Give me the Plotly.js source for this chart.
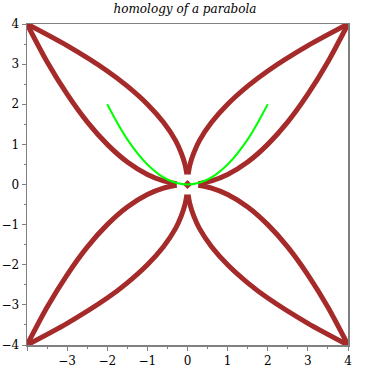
<!DOCTYPE html>
<html>
<head>
<meta charset="utf-8">
<script src="https://cdn.plot.ly/plotly-3.0.1.min.js"></script>
<style>html,body{margin:0;padding:0;background:#fff;}#plot{width:370px;height:370px;}</style>
</head>
<body>
<div id="plot"></div>
<script>
// Upper-left quadrant branches; other quadrants are mirror images
const steepX = [-4, -3, -2, -1.5, -1, -0.6, -0.3, -0.15, -0.06, -0.015];
const steepY = [4, 3.46, 2.83, 2.45, 2.0, 1.55, 1.1, 0.77, 0.49, 0.25];
const flatX = [-4, -3.5, -3, -2.5, -2, -1.5, -1, -0.6, -0.27];
const flatY = [4, 3.06, 2.25, 1.56, 1.0, 0.56, 0.25, 0.09, 0.02];
const centerX = [0];
const centerY = [0];
// Green parabola
const parabX = [-2, -1.5, -1, -0.5, 0, 0.5, 1, 1.5, 2];
const parabY = [2, 1.125, 0.5, 0.125, 0, 0.125, 0.5, 1.125, 2];

const xTicks = [-4, -3, -2, -1, 0, 1, 2, 3, 4];
const xTickText = ["", "\u22123", "\u22122", "\u22121", "0", "1", "2", "3", "4"];
const yTicks = [-4, -3, -2, -1, 0, 1, 2, 3, 4];
const yTickText = ["\u22124", "\u22123", "\u22122", "\u22121", "0", "1", "2", "3", "4"];
const minorTicks = [-3.5, -2.5, -1.5, -0.5, 0.5, 1.5, 2.5, 3.5];

const RED = 'rgb(165,42,42)';
const traces = [];
const signs = [[1,1],[-1,1],[1,-1],[-1,-1]];
for (const [sx, sy] of signs) {
  traces.push({x: steepX.map(v => v*sx), y: steepY.map(v => v*sy), mode: 'lines',
    line: {color: RED, width: 5, shape: 'spline', smoothing: 0.8}, hoverinfo: 'skip'});
  traces.push({x: flatX.map(v => v*sx), y: flatY.map(v => v*sy), mode: 'lines',
    line: {color: RED, width: 5, shape: 'spline', smoothing: 0.8}, hoverinfo: 'skip'});
}
traces.push({x: centerX, y: centerY, mode: 'markers',
  marker: {symbol: 'diamond', size: 7, color: RED}, hoverinfo: 'skip'});
traces.push({x: parabX, y: parabY, mode: 'lines',
  line: {color: 'rgb(0,255,0)', width: 2, shape: 'spline', smoothing: 1}, hoverinfo: 'skip'});

const axisBase = {
  range: [-4, 4], showgrid: false, zeroline: false,
  showline: true, mirror: true, linecolor: 'rgb(128,128,128)', linewidth: 1.5,
  ticks: 'outside', ticklen: 4, tickwidth: 1, tickcolor: 'rgb(128,128,128)',
  tickfont: {family: '"DejaVu Serif", "Liberation Serif", serif', size: 12, color: '#000'},
  minor: {tickvals: minorTicks, ticks: 'outside', ticklen: 2, tickcolor: 'rgb(128,128,128)', showgrid: false},
  fixedrange: true
};

const layout = {
  width: 370, height: 370,
  margin: {l: 27, r: 22, t: 24, b: 25},
  paper_bgcolor: '#fff', plot_bgcolor: '#fff',
  showlegend: false,
  title: {text: 'homology of a parabola', font: {family: '"DejaVu Serif", "Liberation Serif", serif', size: 12, color: '#000', style: 'italic'},
    x: 0.5, xanchor: 'center', y: 0.976, yref: 'container', yanchor: 'middle'},
  xaxis: Object.assign({}, axisBase, {tickvals: xTicks, ticktext: xTickText}),
  yaxis: Object.assign({}, axisBase, {tickvals: yTicks, ticktext: yTickText})
};

Plotly.newPlot('plot', traces, layout, {staticPlot: true, displayModeBar: false});
</script>
</body>
</html>
